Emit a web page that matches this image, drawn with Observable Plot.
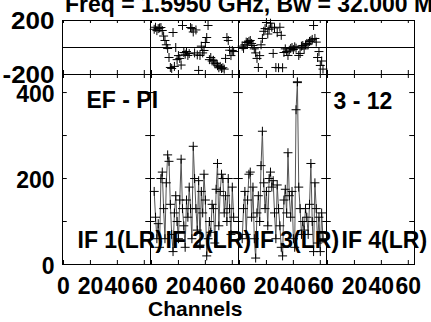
<!DOCTYPE html>
<html><head><meta charset="utf-8">
<script src="https://cdn.jsdelivr.net/npm/d3@7"></script>
<script src="https://cdn.jsdelivr.net/npm/@observablehq/plot@0.6"></script>
<style>
html,body{margin:0;padding:0;background:#fff;overflow:hidden}
#wrap{position:relative;width:431px;height:322px;font-family:"Liberation Sans",Arial,Helvetica,sans-serif;font-weight:bold;color:#000}
#wrap svg{position:absolute;left:0;top:0;overflow:visible}
#title{position:absolute;left:65px;top:-7.5px;font-size:23px;line-height:1;white-space:nowrap}
#xlabel{position:absolute;left:148px;top:298px;font-size:21px;line-height:1;white-space:nowrap}
</style></head><body>
<div id="wrap"><div id="title"></div><div id="xlabel"></div></div>
<script>
// ---- data ----
const titleText = "Freq = 1.5950 GHz, Bw = 32.000 MHz";
const xLabelText = "Channels";
const ifs = [1, 2, 3, 4];
const ifLabels = ["IF 1(LR)", "IF 2(LR)", "IF 3(LR)", "IF 4(LR)"];
const baselineLabel = "EF - PI";
const timeLabel = "3 - 12";
const channelTicks = [0, 20, 40, 60];
const phaseTicks = [-200, 200];
const ampTicks = [0, 200, 400];
const ampMinorTicks = [100, 200, 300, 400];

const if2FirstChannel = 2;
const if2Amp = [170,110,60,95,40,200,215,130,60,190,
                255,240,140,70,30,120,160,100,60,150,
                245,130,90,40,150,110,180,130,60,275,
                200,130,80,195,45,170,120,210,150,20,
                60,100,75,140,130,50,175,235,90,170,
                210,200,120,160,100,200,130,70,180,110];
const if2Phase = [135,150,125,140,145,148,126,85,52,20,
                  -7,-74,-148,-155,111,-140,0,-90,-60,-81,
                  -130,163,-37,-50,-30,-59,-45,148,140,115,
                  -40,130,-55,-170,-59,10,-40,-22,37,74,
                  163,-90,-74,-100,-95,-115,-120,-135,-150,-140,
                  -155,-150,-160,-81,74,52,-20,-60,-22,-30];

const if3FirstChannel = 2;
const if3Amp = [60,130,170,70,150,210,215,110,180,60,
                15,120,160,100,230,310,190,130,170,90,
                200,215,180,195,120,60,185,130,90,40,
                20,150,175,120,260,160,110,170,60,40,
                360,425,180,130,70,100,80,130,110,70,
                140,235,100,30,190,130,50,110,30,120,
                60];
const if3Phase = [10,-7,20,40,37,45,52,30,15,-10,
                  -40,-81,-148,-60,20,67,120,140,185,100,
                  135,180,150,-44,145,-148,110,-150,150,90,
                  -150,-37,-10,-30,-59,-20,-7,0,-15,5,
                  -5,-260,-59,-44,10,15,-10,20,30,25,
                  45,50,60,163,67,40,-74,-30,-133,-100,
                  -160];

const rows = [];
if2Amp.forEach((a, i) => rows.push({if: 2, ch: if2FirstChannel + i, amp: a, phase: if2Phase[i]}));
if3Amp.forEach((a, i) => rows.push({if: 3, ch: if3FirstChannel + i, amp: a, phase: if3Phase[i]}));

// ---- layout ----
const FONT = "Liberation Sans, Arial, Helvetica, sans-serif";
const ML = 61, MR = 17;
const facetW = (431 - ML - MR) / 4;
const style = {background: "transparent", overflow: "visible", fontFamily: FONT};
const common = {
  width: 431, marginLeft: ML, marginRight: MR, style,
  fx: {domain: ifs, padding: 0, axis: null},
  x: {domain: [-0.74, 64.6], axis: null}
};
const txt = {fontSize: 23, fontWeight: "bold", fontFamily: FONT, fill: "#000"};
const plain = d => `${d}`;

const topH = 80, topMT = 20, topMB = 6, topFrameH = topH - topMT - topMB;
const topPlot = Plot.plot({
  ...common, height: topH, marginTop: topMT, marginBottom: topMB,
  y: {domain: [-200, 200], axis: null},
  marks: [
    Plot.ruleY(ifs, {fx: d => d, y: () => 0, stroke: "#000"}),
    Plot.tickX(channelTicks, {x: d => d, insetBottom: topFrameH - 3, stroke: "#000"}),
    Plot.tickX(channelTicks, {x: d => d, insetTop: topFrameH - 4, stroke: "#000"}),
    Plot.frame({stroke: "#000"}),
    Plot.axisY({anchor: "left", ticks: phaseTicks, tickFormat: plain, tickSize: 0, tickPadding: 8, label: null, ...txt, dy: 1}),
    Plot.dot(rows, {fx: "if", x: "ch", y: "phase", symbol: "plus", r: 3, stroke: "#000", strokeWidth: 1})
  ]
});

const botH = 322, botMT = 74, botMB = 58, botFrameH = botH - botMT - botMB;
const botPlot = Plot.plot({
  ...common, height: botH, marginTop: botMT, marginBottom: botMB,
  y: {domain: [0, 442], axis: null},
  marks: [
    Plot.tickX(channelTicks, {x: d => d, insetBottom: botFrameH - 4, stroke: "#000"}),
    Plot.tickX(channelTicks, {x: d => d, insetTop: botFrameH - 4, stroke: "#000"}),
    Plot.tickY(ampMinorTicks, {y: d => d, insetRight: facetW - 5, stroke: "#000"}),
    Plot.tickY(ampMinorTicks, {y: d => d, insetLeft: facetW - 5, stroke: "#000"}),
    Plot.frame({stroke: "#000"}),
    Plot.axisY({anchor: "left", ticks: ampTicks, tickFormat: plain, tickSize: 0, tickPadding: 8, label: null, ...txt, dy: 2}),
    Plot.axisX({anchor: "bottom", ticks: channelTicks, tickFormat: plain, tickSize: 0, tickPadding: 13, label: null, ...txt}),
    Plot.line(rows, {fx: "if", x: "ch", y: "amp", stroke: "#555", strokeWidth: 1}),
    Plot.dot(rows, {fx: "if", x: "ch", y: "amp", symbol: "plus", r: 3, stroke: "#000", strokeWidth: 1}),
    Plot.text([baselineLabel], {fx: () => 1, text: d => d, frameAnchor: "top-left", textAnchor: "start", lineAnchor: "top", dx: 24, dy: 17, ...txt}),
    Plot.text([timeLabel], {fx: () => 4, text: d => d, frameAnchor: "top-left", textAnchor: "start", lineAnchor: "top", dx: 7, dy: 18, ...txt}),
    Plot.text(ifs, {fx: d => d, text: (d, i) => ifLabels[i], frameAnchor: "bottom-left", textAnchor: "start", lineAnchor: "bottom", dx: 15, dy: -17, ...txt})
  ]
});

const wrap = document.getElementById("wrap");
wrap.insertBefore(topPlot, wrap.firstChild);
wrap.insertBefore(botPlot, topPlot.nextSibling);
document.getElementById("title").textContent = titleText;
document.getElementById("xlabel").textContent = xLabelText;

// the phase-panel tick labels are drawn slightly wider in the original
topPlot.querySelectorAll('g[aria-label="y-axis tick label"] text').forEach(t => {
  const w = t.getComputedTextLength();
  t.setAttribute("textLength", (w * 1.13).toFixed(1));
  t.setAttribute("lengthAdjust", "spacingAndGlyphs");
});
</script>
</body></html>
